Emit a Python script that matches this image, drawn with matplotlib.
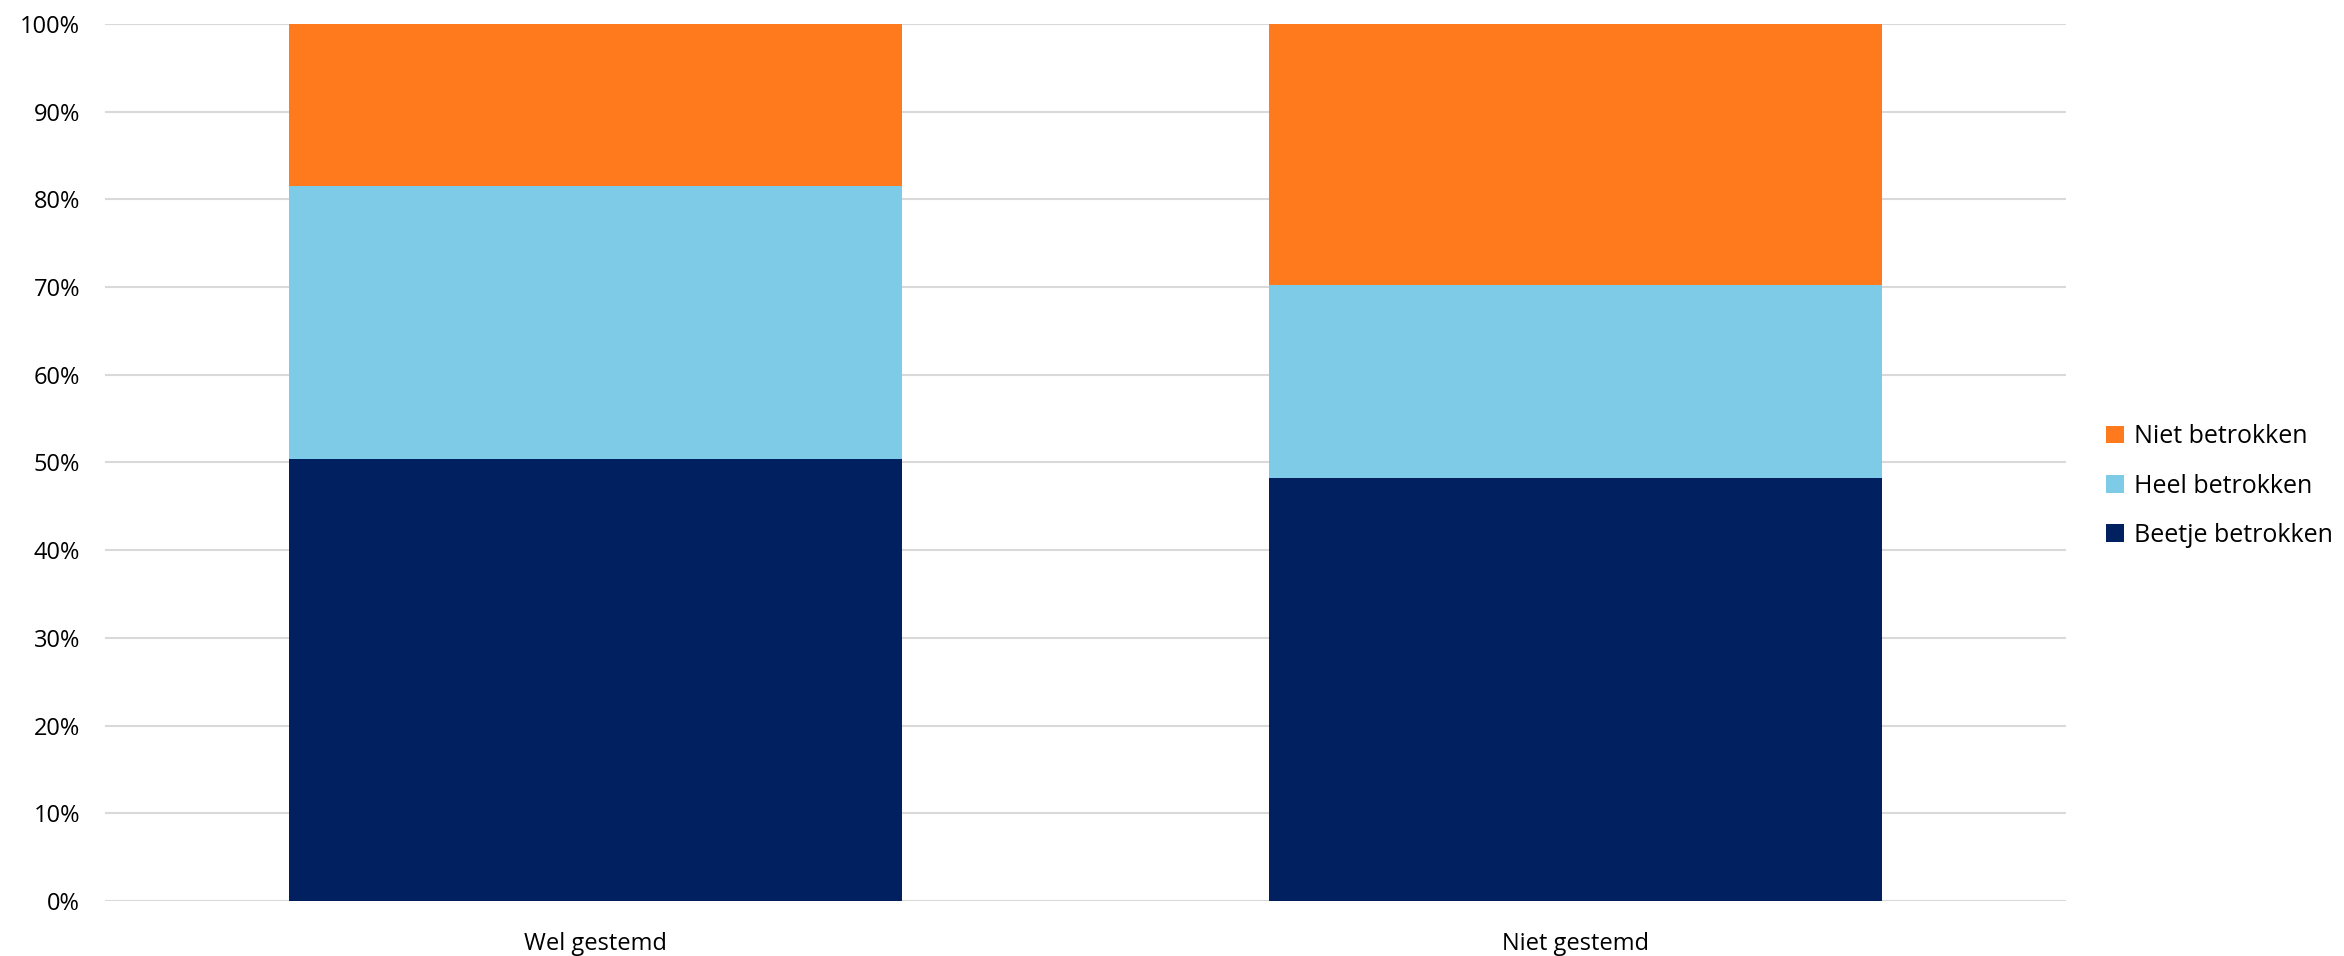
import numpy as np
import matplotlib
matplotlib.use("Agg")
from matplotlib import pyplot as plt
from matplotlib.ticker import PercentFormatter

categories = ["Wel gestemd", "Niet gestemd"]
beetje = [50.4, 48.2]
heel = [31.1, 22.0]
niet = [18.5, 29.8]

plt.rcParams['font.family'] = ['Open Sans', 'DejaVu Sans']

fig = plt.figure(figsize=(23.44, 9.56), dpi=100)
ax = fig.add_axes([0.0448, 0.0575, 0.8366, 0.9175])

x = np.arange(len(categories))
w = 0.625
b1 = ax.bar(x, beetje, w, color='#002060', label='Beetje betrokken', zorder=3)
b2 = ax.bar(x, heel, w, bottom=beetje, color='#7DCBE6', label='Heel betrokken', zorder=3)
bottom2 = np.array(beetje) + np.array(heel)
b3 = ax.bar(x, niet, w, bottom=bottom2, color='#FF7A1C', label='Niet betrokken', zorder=3)

ax.set_xlim(-0.5, 1.5)
ax.set_ylim(0, 100)
ax.set_yticks(np.arange(0, 101, 10))
ax.yaxis.set_major_formatter(PercentFormatter(decimals=0))
ax.set_xticks(x)
ax.set_xticklabels(categories)
ax.grid(axis='y', color='#D9D9D9', linewidth=1.5, zorder=0)
for s in ax.spines.values():
    s.set_visible(False)
ax.tick_params(axis='both', length=0, labelsize=17, colors='#000000')
ax.tick_params(axis='y', pad=18)
ax.tick_params(axis='x', pad=22)

ax.legend(handles=[b3, b2, b1], loc='center left', bbox_to_anchor=(1.0, 0.473),
          frameon=False, fontsize=18, handlelength=0.7, handleheight=0.7,
          handletextpad=0.4, labelspacing=0.97, borderaxespad=1.2)

fig.savefig('out.png', dpi=100)
